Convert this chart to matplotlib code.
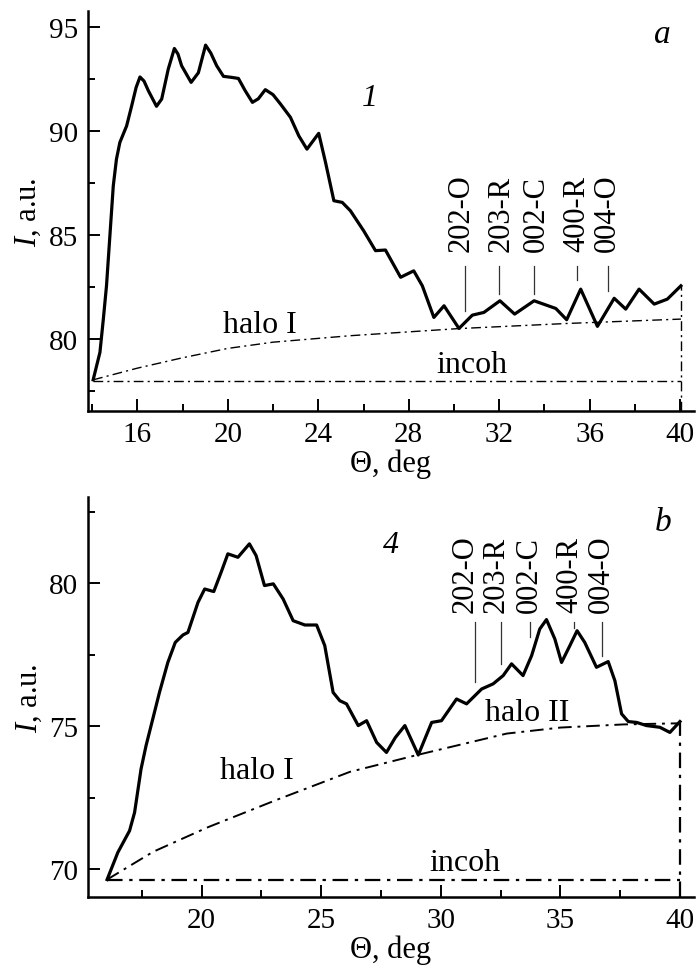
import matplotlib
matplotlib.use("Agg")
import matplotlib.pyplot as plt

plt.rcParams['font.family'] = ['Liberation Serif', 'DejaVu Serif']
plt.rcParams['mathtext.fontset'] = 'custom'
plt.rcParams['mathtext.rm'] = 'Liberation Serif'
plt.rcParams['mathtext.it'] = 'Liberation Serif:italic'

# ---- panel a (curve 1) ----
theta_a = [14.05, 14.35, 14.5, 14.64, 14.79, 14.94, 15.08, 15.23, 15.53, 15.75, 15.95, 16.12,
           16.3, 16.49, 16.85, 17.08, 17.37, 17.64, 17.8, 17.96, 18.38, 18.7, 19.02, 19.25,
           19.51, 19.81, 20.17, 20.47, 20.77, 21.09, 21.35, 21.66, 22.0, 22.33, 22.77, 23.14,
           23.5, 24.02, 24.32, 24.69, 25.06, 25.42, 26.01, 26.53, 26.97, 27.64, 28.22, 28.6,
           29.11, 29.56, 30.22, 30.81, 31.32, 32.03, 32.68, 33.54, 34.5, 34.98, 35.6, 36.34,
           37.08, 37.59, 38.18, 38.85, 39.43, 40.03]
I_a = [78.04, 79.36, 80.96, 82.56, 84.97, 87.37, 88.65, 89.45, 90.25, 91.2, 92.1, 92.6,
       92.4, 91.94, 91.19, 91.54, 92.98, 93.97, 93.7, 93.14, 92.34, 92.8, 94.13, 93.75,
       93.14, 92.63, 92.58, 92.53, 91.94, 91.38, 91.55, 91.99, 91.75, 91.3, 90.66, 89.77,
       89.13, 89.89, 88.5, 86.65, 86.57, 86.17, 85.2, 84.25, 84.28, 82.97, 83.28, 82.56,
       81.04, 81.6, 80.51, 81.15, 81.28, 81.84, 81.2, 81.84, 81.47, 80.93, 82.4, 80.61,
       81.96, 81.44, 82.4, 81.68, 81.92, 82.56]
halo_theta_a = [14.05, 16.0, 18.0, 20.0, 22.0, 25.4, 30.15, 35.0, 40.03]
halo_I_a = [78.04, 78.6, 79.1, 79.55, 79.85, 80.16, 80.5, 80.75, 80.96]
incoh_a = 78.0
peaks = ['202-O', '203-R', '002-C', '400-R', '004-O']
peak_label_x_a = [30.33, 32.1, 33.65, 35.45, 36.8]
peak_line_x_a = [30.5, 32.0, 33.55, 35.45, 36.8]
peak_line_lo_a = [81.36, 82.16, 82.16, 82.84, 82.32]

# ---- panel b (curve 4) ----
theta_b = [16.05, 16.5, 16.99, 17.2, 17.47, 17.68, 17.96, 18.24, 18.59, 18.9, 19.22, 19.43,
           19.85, 20.13, 20.51, 20.82, 21.1, 21.52, 22.0, 22.28, 22.63, 23.0, 23.41, 23.83,
           24.32, 24.81, 25.15, 25.5, 25.78, 26.06, 26.55, 26.9, 27.32, 27.73, 28.1, 28.5,
           29.06, 29.62, 30.03, 30.66, 31.08, 31.71, 32.19, 32.61, 32.96, 33.44, 33.8, 34.14,
           34.42, 34.77, 35.05, 35.4, 35.7, 36.02, 36.51, 37.0, 37.28, 37.56, 37.84, 38.19,
           38.6, 39.16, 39.58, 40.0]
I_b = [69.63, 70.58, 71.34, 71.98, 73.5, 74.32, 75.25, 76.18, 77.23, 77.93, 78.19, 78.28,
       79.33, 79.8, 79.71, 80.39, 81.03, 80.91, 81.38, 80.97, 79.92, 79.98, 79.45, 78.69,
       78.54, 78.54, 77.82, 76.18, 75.89, 75.78, 75.02, 75.19, 74.43, 74.08, 74.6, 75.02,
       73.99, 75.13, 75.19, 75.95, 75.78, 76.3, 76.48, 76.77, 77.18, 76.77, 77.47, 78.4,
       78.73, 78.05, 77.23, 77.82, 78.34, 77.93, 77.06, 77.26, 76.59, 75.43, 75.16, 75.13,
       75.02, 74.96, 74.78, 75.16]
halo_theta_b = [16.05, 17.97, 20.26, 23.14, 26.2, 29.06, 32.76, 35.0, 37.63, 40.0]
halo_I_b = [69.63, 70.6, 71.46, 72.42, 73.4, 74.0, 74.74, 74.95, 75.06, 75.1]
incoh_b = 69.6
peak_label_x_b = [31.0, 32.3, 33.7, 35.4, 36.7]
peak_line_x_b = [31.45, 32.5, 33.75, 35.58, 36.73]
peak_line_lo_b = [76.53, 77.18, 78.11, 78.42, 77.44]

fs = 21
fig = plt.figure(figsize=(6.98, 9.78), dpi=100)
ax1 = fig.add_axes([0.126, 0.5787, 0.868, 0.409])
ax2 = fig.add_axes([0.126, 0.0818, 0.868, 0.409])

dashdot = (0, (7, 3, 1.5, 3))


def style(ax, xlim, ylim, xmaj, xmin, ymaj, ymin):
    ax.set_xlim(*xlim)
    ax.set_ylim(*ylim)
    for s in ['top', 'right']:
        ax.spines[s].set_visible(False)
    for s in ['left', 'bottom']:
        ax.spines[s].set_linewidth(1.8)
    ax.set_xticks(xmaj)
    ax.set_xticks(xmin, minor=True)
    ax.set_yticks(ymaj)
    ax.set_yticks(ymin, minor=True)
    ax.tick_params(which='major', direction='in', length=8.5, width=1.4, labelsize=fs, pad=7)
    ax.tick_params(which='minor', direction='in', length=5, width=1.4)
    ax.set_xlabel('Θ, deg', fontsize=fs + 1, labelpad=1)
    ax.set_ylabel(r'$I$, a.u.', fontsize=fs + 1, labelpad=4)


# panel a
style(ax1, (13.82, 40.6), (76.54, 95.77), [16, 20, 24, 28, 32, 36, 40],
      [14, 18, 22, 26, 30, 34, 38], [80, 85, 90, 95], [77.5, 82.5, 87.5, 92.5])
ax1.plot(theta_a, I_a, color='black', lw=2.3, solid_joinstyle='round')
ax1.plot(halo_theta_a, halo_I_a, color='black', lw=1.0, linestyle=dashdot)
ax1.plot([theta_a[0], theta_a[-1]], [incoh_a, incoh_a], color='black', lw=1.0, linestyle=dashdot)
ax1.plot([theta_a[-1], theta_a[-1]], [76.54, I_a[-1]], color='black', lw=1.0, linestyle=dashdot)
for name, lx, px, lo in zip(peaks, peak_label_x_a, peak_line_x_a, peak_line_lo_a):
    ax1.text(lx, 84.25, name, rotation=90, ha='center', va='bottom', fontsize=fs + 1)
    ax1.plot([px, px], [lo, 83.52], color='#333333', lw=0.9)
ax1.text(21.4, 80.7, 'halo I', ha='center', va='center', fontsize=fs + 2)
ax1.text(30.8, 78.8, 'incoh', ha='center', va='center', fontsize=fs + 2)
ax1.text(26.3, 91.6, '1', ha='center', va='center', fontsize=fs + 2, style='italic')
ax1.text(39.2, 94.7, 'a', ha='center', va='center', fontsize=fs + 3, style='italic')

# panel b
style(ax2, (15.25, 40.58), (69.02, 83.02), [20, 25, 30, 35, 40],
      [17.5, 22.5, 27.5, 32.5, 37.5], [70, 75, 80], [72.5, 77.5, 82.5])
ax2.plot(theta_b, I_b, color='black', lw=2.3, solid_joinstyle='round')
ax2.plot(halo_theta_b, halo_I_b, color='black', lw=1.4, linestyle=dashdot)
ax2.plot([theta_b[0], theta_b[-1]], [incoh_b, incoh_b], color='black', lw=1.6, linestyle=dashdot)
ax2.plot([theta_b[-1], theta_b[-1]], [69.02, I_b[-1]], color='black', lw=1.6, linestyle=dashdot)
for name, lx, px, lo in zip(peaks, peak_label_x_b, peak_line_x_b, peak_line_lo_b):
    ax2.text(lx, 78.98, name, rotation=90, ha='center', va='bottom', fontsize=fs + 1)
    ax2.plot([px, px], [lo, 78.66], color='#333333', lw=0.9)
ax2.text(22.3, 73.45, 'halo I', ha='center', va='center', fontsize=fs + 2)
ax2.text(33.6, 75.47, 'halo II', ha='center', va='center', fontsize=fs + 2)
ax2.text(31.0, 70.23, 'incoh', ha='center', va='center', fontsize=fs + 2)
ax2.text(27.9, 81.35, '4', ha='center', va='center', fontsize=fs + 2, style='italic')
ax2.text(39.3, 82.17, 'b', ha='center', va='center', fontsize=fs + 3, style='italic')

fig.savefig('out.png', dpi=100)
